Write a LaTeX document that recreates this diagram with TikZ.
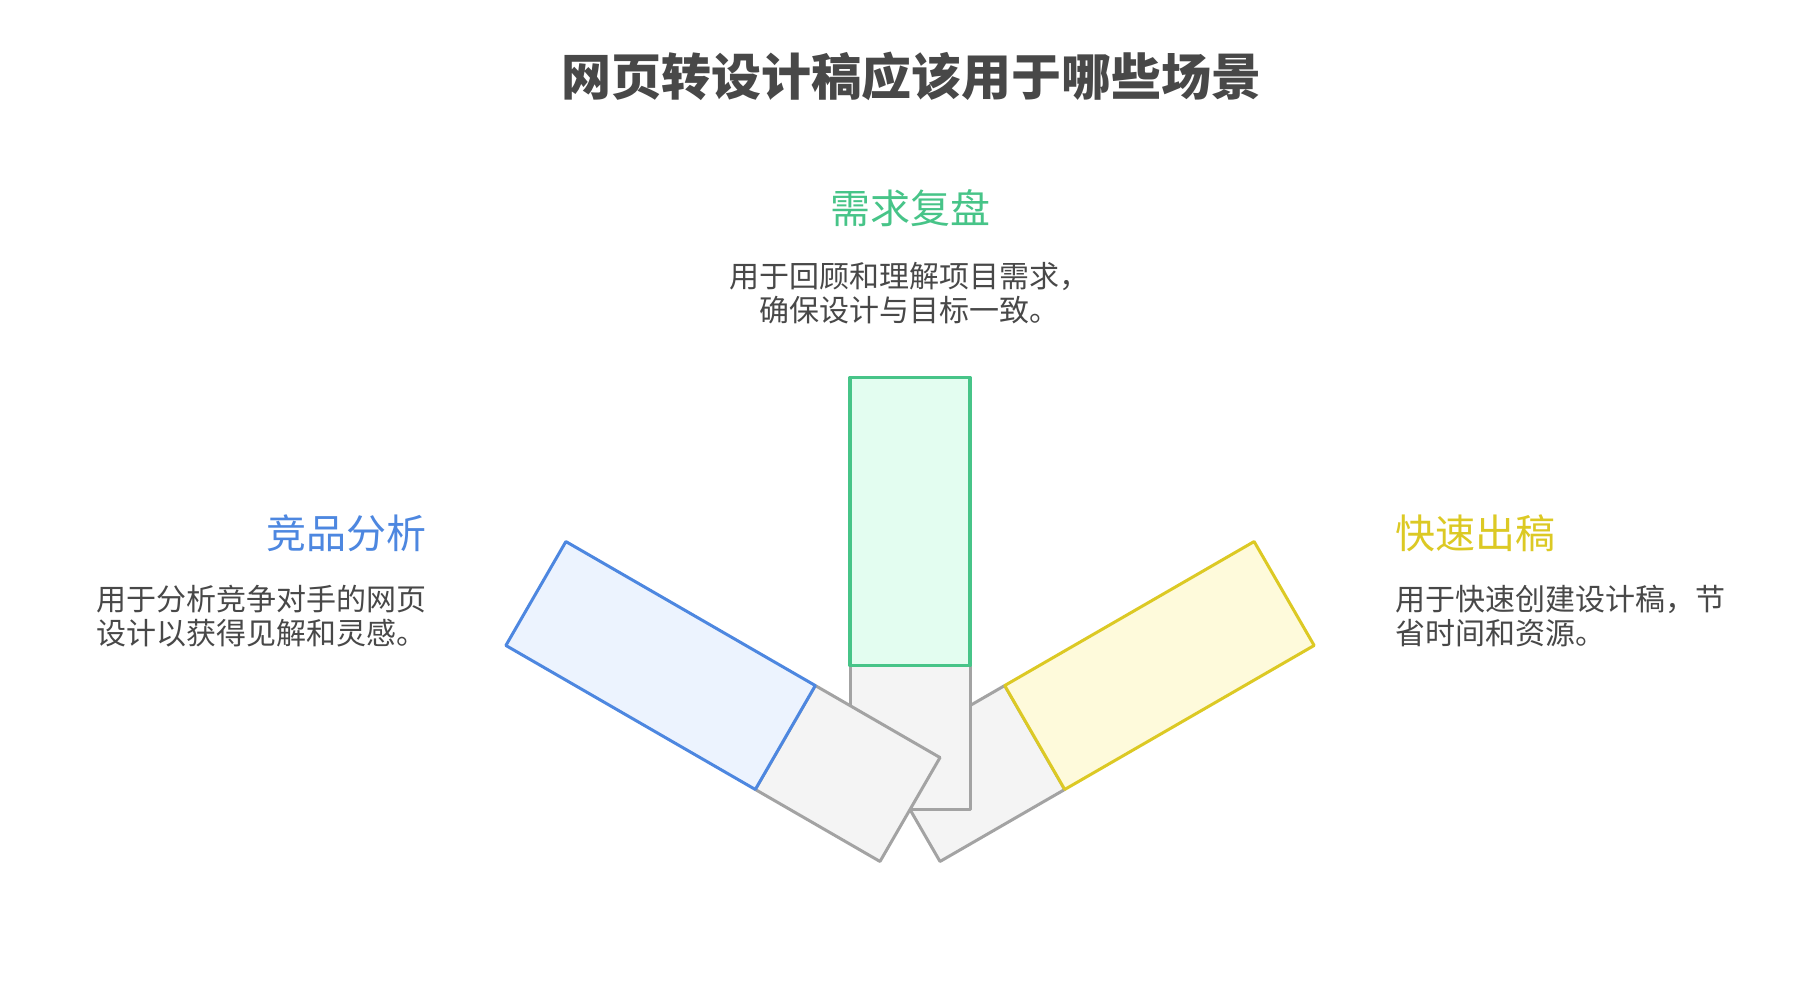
\documentclass[tikz,border=0pt]{standalone}
\usepackage{fontspec}
\setmainfont{Noto Sans CJK SC}
\definecolor{txt}{HTML}{484848}
\definecolor{graystroke}{HTML}{A3A3A3}
\definecolor{grayfill}{HTML}{F4F4F4}
\definecolor{bluestroke}{HTML}{4D87E0}
\definecolor{bluefill}{HTML}{ECF3FE}
\definecolor{greenstroke}{HTML}{47C488}
\definecolor{greenfill}{HTML}{E3FDF0}
\definecolor{yellowstroke}{HTML}{DCC924}
\definecolor{yellowfill}{HTML}{FEFADB}
\begin{document}
\begin{tikzpicture}[x=1pt,y=-1pt,
  bargray/.style={draw=graystroke, fill=grayfill, line width=3pt, line join=round},
  barblue/.style={draw=bluestroke, fill=bluefill, line width=3pt, line join=round},
  bargreen/.style={draw=greenstroke, fill=greenfill, line width=3.5pt, line join=round},
  baryellow/.style={draw=yellowstroke, fill=yellowfill, line width=3pt, line join=round},
  titletext/.style={inner sep=0pt, text=txt, font=\fontsize{50}{60}\selectfont\bfseries},
  headtext/.style={inner sep=0pt, font=\fontsize{40}{48}\selectfont},
  desctext/.style={inner sep=0pt, text=txt, font=\fontsize{30}{34}\selectfont}]
\useasboundingbox (0,0) rectangle (1804,994);
\fill[white] (0,0) rectangle (1804,994);

% bars, pivot at bottom centre
\coordinate (pivot) at (910,809.5);
\begin{scope}[shift={(pivot)}, y=1pt, rotate=-60]
  \draw[bargray] (-60,0) rectangle (60,144);
  \draw[baryellow] (-60,144) rectangle (60,432);
\end{scope}
\begin{scope}[shift={(pivot)}, y=1pt]
  \draw[bargray] (-60,0) rectangle (60,144);
  \draw[bargreen] (-60,144) rectangle (60,432);
\end{scope}
\begin{scope}[shift={(pivot)}, y=1pt, rotate=60]
  \draw[bargray] (-60,0) rectangle (60,144);
  \draw[barblue] (-60,144) rectangle (60,432);
\end{scope}

% texts
\node[titletext] (title) at (911,76) {网页转设计稿应该用于哪些场景};

\node[headtext, text=greenstroke] (h2) at (910,208) {需求复盘};
\node[desctext, align=center] (d2) at (909,293.5) {用于回顾和理解项目需求，\\确保设计与目标一致。};

\node[headtext, text=bluestroke, anchor=east] (h1) at (427,533) {竞品分析};
\node[desctext, align=left, anchor=west] (d1) at (96,616.5) {用于分析竞争对手的网页\\设计以获得见解和灵感。};

\node[headtext, text=yellowstroke, anchor=west] (h3) at (1395,533) {快速出稿};
\node[desctext, align=left, anchor=west] (d3) at (1395,616.5) {用于快速创建设计稿，节\\省时间和资源。};
\end{tikzpicture}
\end{document}
